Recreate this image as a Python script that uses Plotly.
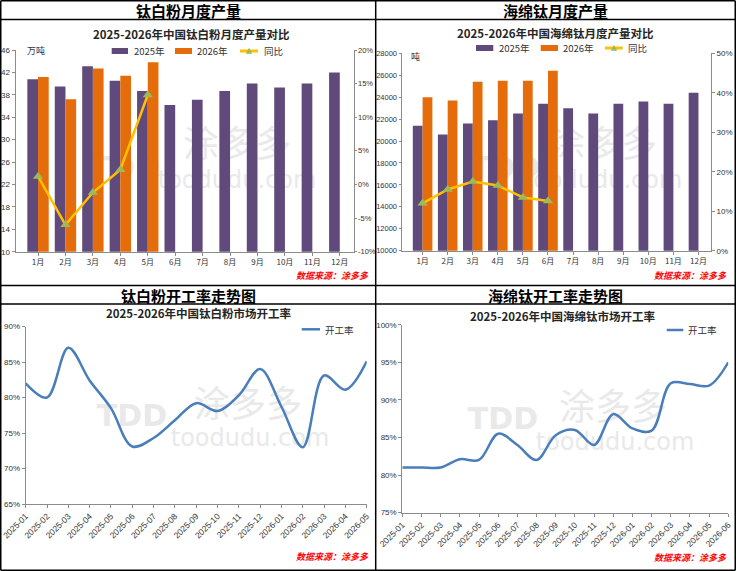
import plotly.graph_objects as go

W, H = 736, 571


def fx(p):
    return p / W


def fy(p):
    return 1 - p / H


# ---------------- DATA ----------------
months = ["1月", "2月", "3月", "4月", "5月", "6月", "7月", "8月", "9月", "10月", "11月", "12月"]

tio2_2025 = [40.8, 39.5, 43.1, 40.5, 38.7, 36.2, 37.1, 38.7, 40.0, 39.3, 40.0, 42.0]
tio2_2026 = [41.2, 37.2, 42.7, 41.4, 43.8, None, None, None, None, None, None, None]
tio2_yoy = [0.012, -0.060, -0.012, 0.022, 0.133]
tio2_yoy_ticks = [-0.10, -0.05, 0.0, 0.05, 0.10, 0.15, 0.20]

sponge_2025 = [21400, 20600, 21600, 21900, 22500, 23400, 23000, 22500, 23400, 23600, 23400, 24400]
sponge_2026 = [24000, 23700, 25400, 25500, 25500, 26400, None, None, None, None, None, None]
sponge_yoy = [0.120, 0.155, 0.175, 0.165, 0.135, 0.126]

tio2_rate_months = ["2025-01", "2025-02", "2025-03", "2025-04", "2025-05", "2025-06",
                    "2025-07", "2025-08", "2025-09", "2025-10", "2025-11", "2025-12",
                    "2026-01", "2026-02", "2026-03", "2026-04", "2026-05"]
tio2_rate = [82.0, 80.0, 87.0, 82.4, 78.5, 73.1, 74.3, 76.8, 79.2, 78.1, 80.3, 84.0,
             78.7, 73.0, 83.1, 81.1, 85.1]

sponge_rate_months = ["2025-01", "2025-02", "2025-03", "2025-04", "2025-05", "2025-06",
                      "2025-07", "2025-08", "2025-09", "2025-10", "2025-11", "2025-12",
                      "2026-01", "2026-02", "2026-03", "2026-04", "2026-05", "2026-06"]
sponge_rate = [81.0, 81.0, 81.0, 82.1, 82.0, 85.5, 84.0, 82.0, 85.3, 86.0, 84.0, 88.1,
               86.2, 85.9, 92.2, 92.1, 91.9, 95.0]

# ---------------- STYLE ----------------
PURPLE = "#604A7B"
ORANGE = "#E46C0A"
GOLD = "#FFC000"
GREEN = "#9BBB59"
BLUE = "#4A7EBB"
AXIS = "#8C8C8C"
TXT = "#333333"
NUM_FONT = "Liberation Sans"
CJK = "Noto Sans CJK SC"

fig = go.Figure()

# Panel 1: TiO2 monthly output
fig.add_trace(go.Bar(x=months, y=tio2_2025, name="2025年", marker_color=PURPLE,
                     xaxis="x", yaxis="y", showlegend=False))
fig.add_trace(go.Bar(x=months, y=tio2_2026, name="2026年", marker_color=ORANGE,
                     xaxis="x", yaxis="y", showlegend=False))
fig.add_trace(go.Scatter(x=months[:len(tio2_yoy)], y=tio2_yoy, name="同比", mode="lines+markers",
                         line=dict(color=GOLD, width=2.5),
                         marker=dict(symbol="triangle-up", size=9, color=GREEN),
                         xaxis="x", yaxis="y2", showlegend=False))

# Panel 2: sponge titanium monthly output
fig.add_trace(go.Bar(x=months, y=sponge_2025, name="2025年", marker_color=PURPLE,
                     xaxis="x2", yaxis="y3", showlegend=False))
fig.add_trace(go.Bar(x=months, y=sponge_2026, name="2026年", marker_color=ORANGE,
                     xaxis="x2", yaxis="y3", showlegend=False))
fig.add_trace(go.Scatter(x=months[:len(sponge_yoy)], y=sponge_yoy, name="同比", mode="lines+markers",
                         line=dict(color=GOLD, width=2.5),
                         marker=dict(symbol="triangle-up", size=9, color=GREEN),
                         xaxis="x2", yaxis="y4", showlegend=False))

# Panel 3: TiO2 operating rate
fig.add_trace(go.Scatter(x=tio2_rate_months, y=tio2_rate, name="开工率", mode="lines",
                         line=dict(color=BLUE, width=2.5, shape="spline", smoothing=1.0),
                         xaxis="x3", yaxis="y5", showlegend=False))

# Panel 4: sponge titanium operating rate
fig.add_trace(go.Scatter(x=sponge_rate_months, y=sponge_rate, name="开工率", mode="lines",
                         line=dict(color=BLUE, width=2.5, shape="spline", smoothing=1.0),
                         xaxis="x4", yaxis="y6", showlegend=False))

tickfont = dict(family=NUM_FONT, size=8, color=TXT)
small_tickfont = dict(family=NUM_FONT, size=7.5, color=TXT)
cjk_tickfont = dict(family=CJK, size=8, color=TXT)

common_axis = dict(showline=True, linecolor=AXIS, linewidth=1, ticks="outside",
                   tickcolor=AXIS, ticklen=3, showgrid=False, zeroline=False,
                   automargin=False)
tight_axis = dict(common_axis, ticklen=2)

fig.update_layout(
    template="none",
    width=W, height=H,
    margin=dict(l=0, r=0, t=0, b=0, pad=0, autoexpand=False),
    paper_bgcolor="white",
    plot_bgcolor="rgba(0,0,0,0)",
    showlegend=False,
    barmode="group", bargap=0.22, bargroupgap=0,
    # Panel 1
    xaxis=dict(domain=[fx(15.5), fx(353.5)], anchor="y", type="category",
               tickfont=cjk_tickfont, **common_axis),
    yaxis=dict(domain=[fy(251.7), fy(50)], anchor="x", range=[10, 46], tick0=10, dtick=4,
               tickfont=tickfont, **common_axis),
    yaxis2=dict(domain=[fy(251.7), fy(50)], anchor="x", overlaying="y", side="right",
                range=[-0.10, 0.20], tickmode="array", tickvals=tio2_yoy_ticks,
                ticktext=["%d%%" % round(v * 100) for v in tio2_yoy_ticks],
                tickfont=small_tickfont, **tight_axis),
    # Panel 2
    xaxis2=dict(domain=[fx(401.5), fx(711)], anchor="y3", type="category",
                tickfont=cjk_tickfont, **common_axis),
    yaxis3=dict(domain=[fy(250.7), fy(53.3)], anchor="x2", range=[10000, 28000], tick0=10000,
                dtick=2000, tickformat="d", tickfont=small_tickfont, **tight_axis),
    yaxis4=dict(domain=[fy(250.7), fy(53.3)], anchor="x2", overlaying="y3", side="right",
                range=[0, 0.5], tick0=0, dtick=0.1, tickformat=".0%",
                tickfont=tickfont, **common_axis),
    # Panel 3
    xaxis3=dict(domain=[fx(25.7), fx(366.7)], anchor="y5", type="category",
                range=[0, len(tio2_rate_months) - 1], tickmode="linear", tick0=0, dtick=1,
                tickangle=-45,
                tickfont=dict(family=NUM_FONT, size=8.5, color=TXT), **common_axis),
    yaxis5=dict(domain=[fy(504), fy(326.5)], anchor="x3", range=[65, 90], tick0=65, dtick=5,
                ticksuffix="%", tickfont=tickfont, **common_axis),
    # Panel 4
    xaxis4=dict(domain=[fx(402.3), fx(728.3)], anchor="y6", type="category",
                range=[0, len(sponge_rate_months) - 1], tickmode="linear", tick0=0, dtick=1,
                tickangle=-45,
                tickfont=dict(family=NUM_FONT, size=8.5, color=TXT), **common_axis),
    yaxis6=dict(domain=[fy(512.6), fy(324.7)], anchor="x4", range=[75, 100], tick0=75, dtick=5,
                ticksuffix="%", tickfont=tickfont, **common_axis),
)

shapes = []
annotations = []


def ann(text, x, y, size=10, color=TXT, family=CJK, xanchor="center", bold=False, italic=False):
    t = text
    if bold:
        t = "<b>" + t + "</b>"
    if italic:
        t = "<i>" + t + "</i>"
    annotations.append(dict(text=t, x=fx(x), y=fy(y), xref="paper", yref="paper",
                            xanchor=xanchor, yanchor="middle", showarrow=False,
                            font=dict(family=family, size=size, color=color)))


def line(x0, y0, x1, y1, color="black", width=1.5):
    shapes.append(dict(type="line", xref="paper", yref="paper",
                       x0=fx(x0), y0=fy(y0), x1=fx(x1), y1=fy(y1),
                       line=dict(color=color, width=width)))


def rect(x0, y0, x1, y1, color):
    shapes.append(dict(type="rect", xref="paper", yref="paper",
                       x0=fx(x0), y0=fy(y0), x1=fx(x1), y1=fy(y1),
                       fillcolor=color, line=dict(width=0)))


def tri(cx, cy, s, color):
    p = "M {} {} L {} {} L {} {} Z".format(fx(cx - s), fy(cy + s * 0.85), fx(cx + s), fy(cy + s * 0.85),
                                         fx(cx), fy(cy - s))
    shapes.append(dict(type="path", xref="paper", yref="paper", path=p,
                       fillcolor=color, line=dict(width=0)))


def watermark(x, y, text, size, bold=False):
    shapes.append(dict(type="rect", xref="paper", yref="paper", layer="below",
                       x0=fx(x - 60), x1=fx(x + 60), y0=fy(y + 15), y1=fy(y - 15),
                       line=dict(width=0), fillcolor="rgba(0,0,0,0)",
                       label=dict(text=("<b>" + text + "</b>") if bold else text,
                                  font=dict(family=CJK if not text.isascii() else "DejaVu Sans",
                                            size=size, color="#E9E9E9"))))


# Borders
line(0.75, 0.75, 735.25, 0.75)
line(0.75, 570.25, 735.25, 570.25)
line(0.75, 0.75, 0.75, 570.25)
line(735.25, 0.75, 735.25, 570.25)
line(375.7, 0.75, 375.7, 570.25)
line(0.75, 285.5, 735.25, 285.5)
line(0.75, 19.5, 735.25, 19.5)
line(0.75, 304, 735.25, 304)

# Watermarks
for (wx, wy) in [(237, 147), (603, 147)]:
    watermark(wx, wy, "涂多多", 36)
    watermark(wx, wy + 31, "toodudu.com", 24)
watermark(125, 165, "TDD", 30, bold=True)
watermark(505, 165, "TDD", 30, bold=True)
watermark(248, 407, "涂多多", 36)
watermark(250, 436, "toodudu.com", 24)
watermark(132, 413, "TDD", 30, bold=True)
watermark(613, 410, "涂多多", 36)
watermark(615, 440, "toodudu.com", 24)
watermark(503, 416, "TDD", 30, bold=True)

# Headers
ann("钛白粉月度产量", 188, 10.5, size=15, color="black", bold=True)
ann("海绵钛月度产量", 555, 10.5, size=15, color="black", bold=True)
ann("钛白粉开工率走势图", 188, 295.5, size=15, color="black", bold=True)
ann("海绵钛开工率走势图", 555, 295.5, size=15, color="black", bold=True)

# Chart titles
ann("2025-2026年中国钛白粉月度产量对比", 191.5, 33.5, size=11.5, color="#262626", bold=True)
ann("2025-2026年中国海绵钛月度产量对比", 555, 32.5, size=11.5, color="#262626", bold=True)
ann("2025-2026年中国钛白粉市场开工率", 199, 312.5, size=11.5, color="#262626", bold=True)
ann("2025-2026年中国海绵钛市场开工率", 563, 315.5, size=11.5, color="#262626", bold=True)

# Units
ann("万吨", 24.5, 51, size=9, xanchor="left")
ann("吨", 409, 56.5, size=9, xanchor="left")

# Legends panel 1
rect(111.7, 48, 128, 54, PURPLE)
ann("2025年", 131.5, 51, size=9.5, xanchor="left")
rect(175, 48, 192, 54, ORANGE)
ann("2026年", 195, 51, size=9.5, xanchor="left")
line(240, 51, 258, 51, color=GOLD, width=3)
tri(249, 51, 3.2, GREEN)
ann("同比", 261.5, 51, size=9.5, xanchor="left")

# Legends panel 2
rect(476, 45, 493.3, 51, PURPLE)
ann("2025年", 496.5, 48, size=9.5, xanchor="left")
rect(540.7, 45, 558, 51, ORANGE)
ann("2026年", 560.5, 48, size=9.5, xanchor="left")
line(605, 48, 622.7, 48, color=GOLD, width=3)
tri(614, 48, 3.2, GREEN)
ann("同比", 625.5, 48, size=9.5, xanchor="left")

# Legends panels 3 & 4
line(301.7, 329.3, 320, 329.3, color=BLUE, width=2.5)
ann("开工率", 322.5, 329.5, size=9.5, xanchor="left")
line(666.7, 330, 683.3, 330, color=BLUE, width=2.5)
ann("开工率", 686, 330, size=9.5, xanchor="left")

# Sources
ann("数据来源：涂多多", 371, 275.7, size=9, color="#FF0000", xanchor="right", bold=True, italic=True)
ann("数据来源：涂多多", 729, 275.7, size=9, color="#FF0000", xanchor="right", bold=True, italic=True)
ann("数据来源：涂多多", 371, 556.7, size=9, color="#FF0000", xanchor="right", bold=True, italic=True)
ann("数据来源：涂多多", 729, 557.5, size=9, color="#FF0000", xanchor="right", bold=True, italic=True)

fig.update_layout(shapes=shapes, annotations=annotations)

fig.write_html(
    "out.html",
    config={"displayModeBar": False},
    post_script="document.body.style.margin='0';document.body.style.overflow='hidden';",
)
